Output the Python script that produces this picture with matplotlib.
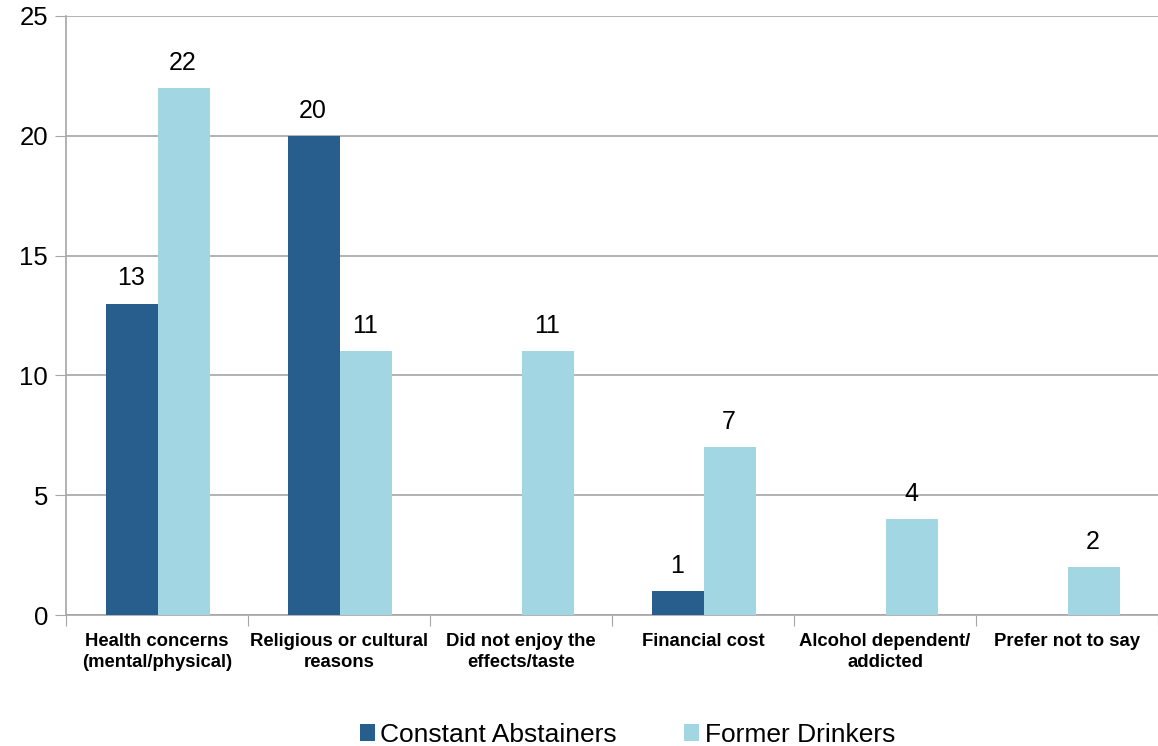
import matplotlib.pyplot as plt
import numpy as np

plt.rcParams['font.family'] = ['Liberation Sans', 'DejaVu Sans']

categories = ['Health concerns\n(mental/physical)', 'Religious or cultural\nreasons',
              'Did not enjoy the\neffects/taste', 'Financial cost',
              'Alcohol dependent/\naddicted', 'Prefer not to say']
abstainers = [13, 20, None, 1, None, None]
former = [22, 11, 11, 7, 4, 2]

dark = '#285e8e'
light = '#a2d6e3'
grey = '#a6a6a6'

fig = plt.figure(figsize=(11.58, 7.46), dpi=100)
ax = fig.add_axes([0.057, 0.1756, 0.943, 0.803])

x = np.arange(len(categories))
w = 0.286

ab_vals = [v if v is not None else 0 for v in abstainers]
ax.bar(x - w / 2 + 0.005, ab_vals, w, color=dark, label='Constant Abstainers', zorder=3)
ax.bar(x + w / 2 + 0.005, former, w, color=light, label='Former Drinkers', zorder=3)

# value labels above the bars (skip the empty ones)
for xi, v in zip(x, abstainers):
    if v is not None:
        ax.text(xi - w / 2, v + 0.55, str(v), ha='center', va='bottom', fontsize=18)
for xi, v in zip(x, former):
    ax.text(xi + w / 2, v + 0.55, str(v), ha='center', va='bottom', fontsize=18)

ax.set_xlim(-0.5, len(categories) - 0.5)
ax.set_ylim(0, 25)
ax.set_yticks(range(0, 26, 5))
ax.tick_params(axis='y', labelsize=18.5, length=8, color=grey, pad=5)
ax.set_xticks(np.arange(-0.5, len(categories), 1))
ax.set_xticklabels([])
ax.set_xticks(x, minor=True)
ax.set_xticklabels(categories, minor=True, fontsize=13.3, fontweight='bold',
                   linespacing=1.3)
ax.tick_params(axis='x', which='major', length=8, color=grey)
ax.tick_params(axis='x', which='minor', length=0, pad=13)

ax.yaxis.grid(True, color=grey, linewidth=1.2, zorder=0)
for side in ['top', 'right']:
    ax.spines[side].set_visible(False)
for side in ['left', 'bottom']:
    ax.spines[side].set_color(grey)
    ax.spines[side].set_linewidth(1.2)

ax.legend(loc='upper center', bbox_to_anchor=(0.514, -0.14), ncol=2, frameon=False,
          fontsize=19, handlelength=0.58, handleheight=0.58, handletextpad=0.2,
          columnspacing=2.55)

fig.savefig('out.png', dpi=100)
